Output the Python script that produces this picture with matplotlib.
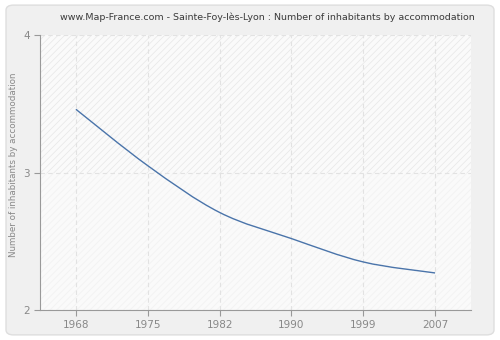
import matplotlib
matplotlib.use('Agg')
import matplotlib.pyplot as plt
from matplotlib.patches import Rectangle, FancyBboxPatch
from matplotlib.path import Path
from matplotlib.patches import PathPatch

years = ['1968', '1975', '1982', '1990', '1999', '2007']
values = [3.46, 3.05, 2.71, 2.52, 2.35, 2.27]
y_ticks = [2, 3, 4]

title = 'www.Map-France.com - Sainte-Foy-lès-Lyon : Number of inhabitants by accommodation'
y_label = 'Number of inhabitants by accommodation'

grey_text = '#888888'

fig = plt.figure(figsize=(5, 3.4), dpi=100)
fig.patch.set_facecolor('white')
# rounded grey panel behind everything
panel = FancyBboxPatch((0.012, 0.015), 0.976, 0.97, boxstyle='round,pad=0,rounding_size=0.015',
                       transform=fig.transFigure, facecolor='#f0f0f0', edgecolor='#dedede',
                       linewidth=1, zorder=-5)
fig.patches.append(panel)

ax = fig.add_axes([0.08, 0.088, 0.862, 0.809])
ax.set_zorder(1)
ax.set_facecolor('#fafafa')
x = list(range(len(years)))
ax.set_xlim(-0.5, len(years) - 0.5)
ax.set_ylim(2, 4)

# hatched background, stronger in the top band
plt.rcParams['hatch.linewidth'] = 0.5
ax.add_patch(Rectangle((-0.5, 3), len(years), 1, facecolor='none', edgecolor='#e6e6e6',
                       hatch='/////', linewidth=0, zorder=0))
ax.add_patch(Rectangle((-0.5, 2), len(years), 1, facecolor='none', edgecolor='#f1f1f1',
                       hatch='/////', linewidth=0, zorder=0))

# smooth curve through the points (cubic bezier segments)
verts = [(x[0], values[0])]
codes = [Path.MOVETO]
n = len(x)
for i in range(n - 1):
    x0, y0 = x[i], values[i]
    x1, y1 = x[i + 1], values[i + 1]
    xm, ym = (x[i - 1], values[i - 1]) if i > 0 else (x0, y0)
    xp, yp = (x[i + 2], values[i + 2]) if i + 2 < n else (x1, y1)
    c1 = (x0 + (x1 - xm) / 6, y0 + (y1 - ym) / 6)
    c2 = (x1 - (xp - x0) / 6, y1 - (yp - y0) / 6)
    verts += [c1, c2, (x1, y1)]
    codes += [Path.CURVE4] * 3
ax.add_patch(PathPatch(Path(verts, codes), facecolor='none', edgecolor='#4a74aa',
                       linewidth=1.0, zorder=3))

ax.set_xticks(x)
ax.set_xticklabels(years)
ax.set_yticks(y_ticks)
ax.grid(True, color='#e2e2e2', linestyle=(0, (4, 3)), linewidth=0.8)
ax.set_axisbelow(True)

for side in ['top', 'right']:
    ax.spines[side].set_visible(False)
for side in ['left', 'bottom']:
    ax.spines[side].set_color('#999999')
ax.tick_params(colors='#999999', labelcolor=grey_text, labelsize=7.5, length=4, width=0.8)

fig.text(0.027, 0.515, y_label, rotation=90, ha='center', va='center', fontsize=6.3, color=grey_text)
fig.text(0.535, 0.95, title, ha='center', va='center', fontsize=6.8, color='#3a3a3a')

plt.savefig('out.png', dpi=100)
